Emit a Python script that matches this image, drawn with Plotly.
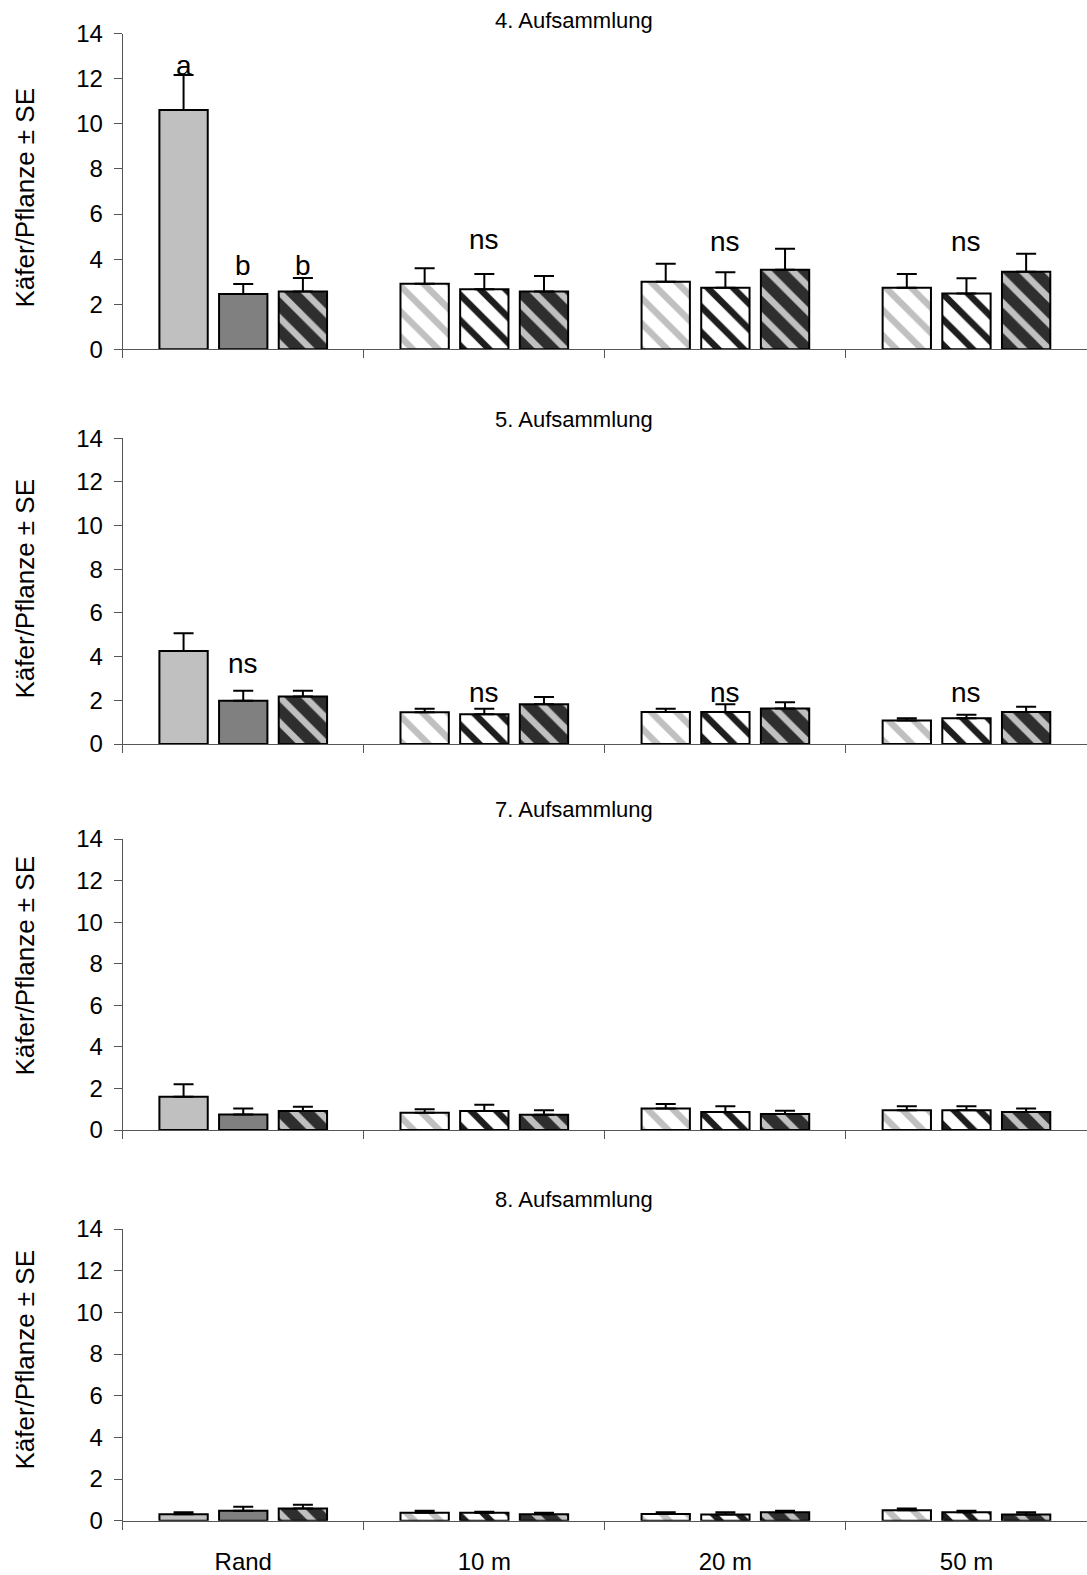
import plotly.graph_objects as go
from plotly.subplots import make_subplots

# Sampling positions (x categories) and collection rounds (one panel each)
categories = ["Rand", "10 m", "20 m", "50 m"]
rounds = ["4. Aufsammlung", "5. Aufsammlung", "7. Aufsammlung", "8. Aufsammlung"]
y_title = "Käfer/Pflanze ± SE"

# Means per round: first, second and third bar of every group
r4_s1 = [10.62, 2.91, 3.00, 2.73]
r4_s2 = [2.45, 2.66, 2.73, 2.47]
r4_s3 = [2.56, 2.56, 3.53, 3.44]
r5_s1 = [4.26, 1.45, 1.47, 1.08]
r5_s2 = [1.98, 1.36, 1.47, 1.18]
r5_s3 = [2.17, 1.82, 1.63, 1.47]
r7_s1 = [1.60, 0.83, 1.04, 0.95]
r7_s2 = [0.75, 0.92, 0.87, 0.95]
r7_s3 = [0.92, 0.73, 0.77, 0.87]
r8_s1 = [0.31, 0.38, 0.32, 0.50]
r8_s2 = [0.48, 0.38, 0.30, 0.40]
r8_s3 = [0.58, 0.31, 0.40, 0.30]

# Standard errors (upper whiskers only)
r4_e1 = [1.55, 0.68, 0.80, 0.61]
r4_e2 = [0.45, 0.68, 0.69, 0.68]
r4_e3 = [0.60, 0.69, 0.93, 0.80]
r5_e1 = [0.81, 0.17, 0.15, 0.10]
r5_e2 = [0.46, 0.26, 0.35, 0.16]
r5_e3 = [0.27, 0.33, 0.28, 0.24]
r7_e1 = [0.60, 0.17, 0.21, 0.19]
r7_e2 = [0.29, 0.30, 0.27, 0.19]
r7_e3 = [0.20, 0.22, 0.16, 0.17]
r8_e1 = [0.09, 0.10, 0.08, 0.08]
r8_e2 = [0.19, 0.05, 0.10, 0.08]
r8_e3 = [0.19, 0.07, 0.08, 0.10]

# Significance letters: (panel, category index, bar index, y, text)
sig_labels = [
    (0, 0, 0, 12.6, "a"), (0, 0, 1, 3.7, "b"), (0, 0, 2, 3.7, "b"),
    (0, 1, 1, 4.85, "ns"), (0, 2, 1, 4.8, "ns"), (0, 3, 1, 4.8, "ns"),
    (1, 0, 1, 3.69, "ns"), (1, 1, 1, 2.35, "ns"), (1, 2, 1, 2.37, "ns"),
    (1, 3, 1, 2.37, "ns"),
]

means = [[r4_s1, r4_s2, r4_s3], [r5_s1, r5_s2, r5_s3],
         [r7_s1, r7_s2, r7_s3], [r8_s1, r8_s2, r8_s3]]
errors = [[r4_e1, r4_e2, r4_e3], [r5_e1, r5_e2, r5_e3],
          [r7_e1, r7_e2, r7_e3], [r8_e1, r8_e2, r8_e3]]

LIGHT = "#c0c0c0"
MID = "#808080"
DARK = "#2e2e2e"
BLACK = "#1e1e1e"
WHITE = "#ffffff"
FONT = "Liberation Sans, Arial, sans-serif"
AXIS = "#555555"

# Fill style per bar slot: (style for the edge group "Rand", style for the field distances)
# each style: (background colour, stripe colour or None for a solid fill)
slot_styles = [
    ((LIGHT, None), (WHITE, LIGHT)),
    ((MID, None), (WHITE, BLACK)),
    ((DARK, LIGHT), (DARK, LIGHT)),
]

W, H = 1087, 1575
# plot areas in pixels (top, bottom)
panel_px = [(33.7, 349.3), (438.3, 744.0), (839.0, 1130.0), (1229.0, 1520.7)]
title_px = [20.5, 419.5, 810.0, 1199.5]
ytitle_px = [198.0, 589.0, 966.0, 1360.0]
x_left = 122.7

BARGAP = 0.2575
GROUPGAP = 0.19


def bar_marker(bg, fg):
    m = dict(color=bg, line=dict(color="#000000", width=2))
    if fg is not None:
        m["pattern"] = dict(shape="\\", bgcolor=bg, fgcolor=fg, fgopacity=1,
                            size=18, solidity=0.36, fillmode="replace")
    return m


fig = make_subplots(rows=4, cols=1)

for p in range(4):
    for s in range(3):
        edge_style, field_style = slot_styles[s]
        parts = [([0], edge_style), ([1, 2, 3], field_style)]
        for idx, (bg, fg) in parts:
            fig.add_trace(
                go.Bar(
                    x=[categories[i] for i in idx],
                    y=[means[p][s][i] for i in idx],
                    offsetgroup=str(s),
                    marker=bar_marker(bg, fg),
                    error_y=dict(type="data", array=[errors[p][s][i] for i in idx],
                                 arrayminus=[0] * len(idx), symmetric=False,
                                 color="#000000", thickness=2, width=10),
                    showlegend=False,
                ),
                row=p + 1, col=1,
            )

cat_px = (W - x_left) / len(categories)
slot_px = cat_px * (1 - BARGAP) / 3

annotations = []
for p in range(4):
    annotations.append(dict(
        text=rounds[p], xref="paper", yref="paper",
        x=573.6 / W, y=1 - title_px[p] / H, xanchor="center", yanchor="middle",
        showarrow=False, font=dict(family=FONT, size=22, color="#000000"),
    ))
    annotations.append(dict(
        text=y_title, xref="paper", yref="paper", textangle=-90,
        x=24.5 / W, y=1 - ytitle_px[p] / H, xanchor="center", yanchor="middle",
        showarrow=False, font=dict(family=FONT, size=26, color="#000000"),
    ))

for (p, c, b, yv, txt) in sig_labels:
    xr = "x" if p == 0 else f"x{p + 1}"
    yr = "y" if p == 0 else f"y{p + 1}"
    annotations.append(dict(
        text=txt, xref=xr, yref=yr, x=categories[c], y=yv,
        xshift=(b - 1) * slot_px, xanchor="center", yanchor="middle",
        showarrow=False, font=dict(family=FONT, size=28, color="#000000"),
    ))

layout = dict(
    width=W, height=H,
    margin=dict(l=0, r=0, t=0, b=0, autoexpand=False),
    paper_bgcolor="white", plot_bgcolor="white",
    barmode="group", bargap=BARGAP, bargroupgap=GROUPGAP,
    font=dict(family=FONT, size=22, color="#000000"),
    annotations=annotations,
)
for p in range(4):
    top, bot = panel_px[p]
    sx = "" if p == 0 else str(p + 1)
    layout[f"xaxis{sx}"] = dict(
        domain=[x_left / W, 1.0], type="category", range=[-0.5, 3.5],
        categoryorder="array", categoryarray=categories,
        showline=True, linecolor=AXIS, linewidth=1, automargin=False,
        ticks="outside", tickson="boundaries", ticklen=8, tickcolor=AXIS,
        showgrid=False, zeroline=False,
        showticklabels=(p == 3), ticklabelstandoff=19,
        tickfont=dict(family=FONT, size=24, color="#000000"),
    )
    layout[f"yaxis{sx}"] = dict(
        domain=[1 - bot / H, 1 - top / H], range=[0, 14], dtick=2, tick0=0,
        showline=True, linecolor=AXIS, linewidth=1, automargin=False,
        ticks="outside", ticklen=8, tickcolor=AXIS,
        showgrid=False, zeroline=False, ticklabelstandoff=6,
        tickfont=dict(family=FONT, size=24, color="#000000"),
    )

fig.update_layout(**layout)
fig.write_html("out.html")
